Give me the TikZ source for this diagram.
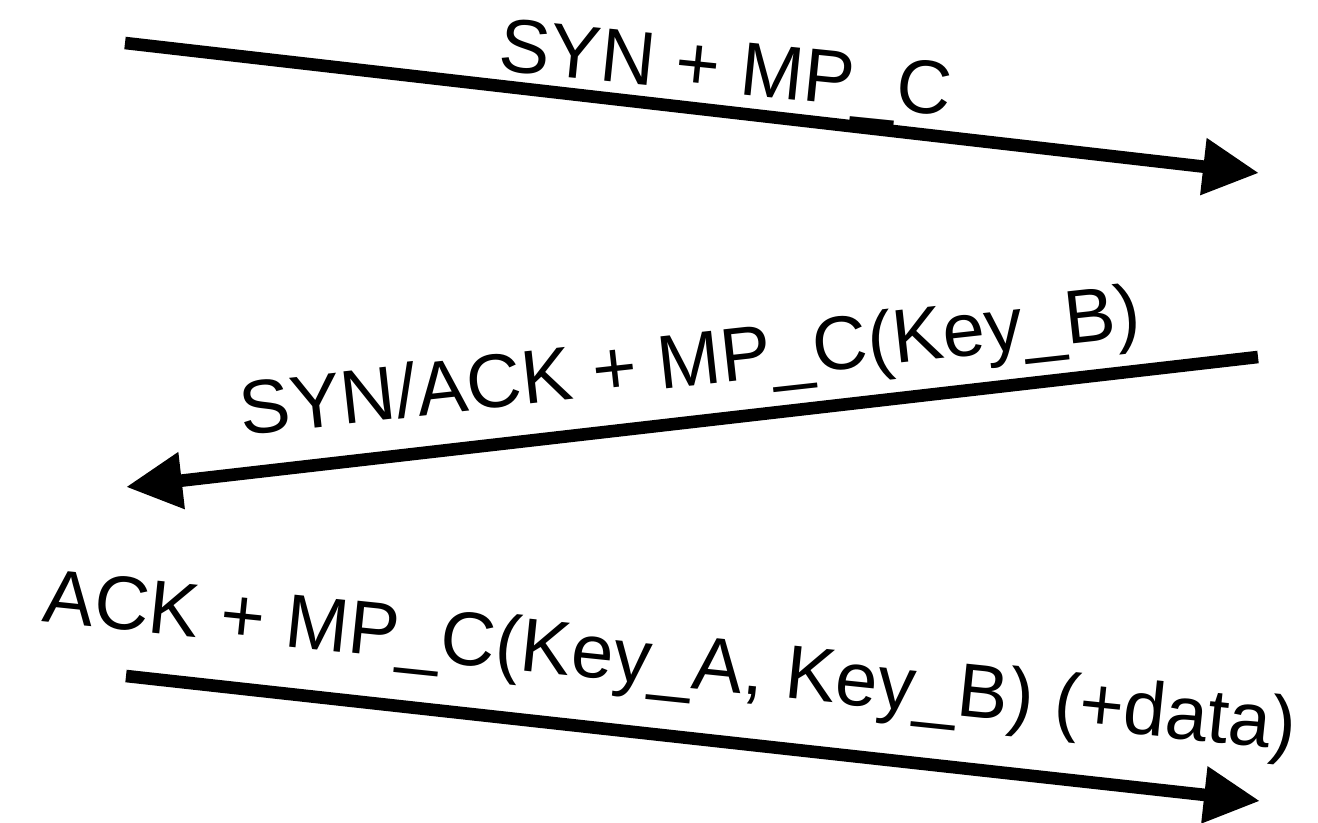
\documentclass[tikz,border=0pt]{standalone}
\usepackage{fontspec}
\setmainfont{Liberation Sans}
\usetikzlibrary{arrows.meta}
\begin{document}
\begin{tikzpicture}[x=0.5pt,y=-0.5pt,
  msg/.style={line width=6.3pt,-{Triangle[length=28pt,width=27pt]}},
  lbl/.style={font=\fontsize{38}{45}\selectfont,anchor=base,inner sep=0pt}]
\useasboundingbox (0,0) rectangle (1318,823);
\coordinate (a1) at (125,43);
\coordinate (b1) at (1259,173);
\coordinate (b2) at (1258,357);
\coordinate (a2) at (126,487);
\coordinate (a3) at (126,676);
\coordinate (b3) at (1260,801);
\draw[msg] (a1) -- (b1);
\draw[msg] (b2) -- (a2);
\draw[msg] (a3) -- (b3);
\node[lbl,rotate=-5.8] (l1) at (723,93) {SYN + MP\_C};
\node[lbl,rotate=6.3] (l2) at (693,386) {SYN/ACK + MP\_C(Key\_B)};
\node[lbl,rotate=-5.9] (l3) at (668,686) {ACK + MP\_C(Key\_A, Key\_B) (+data)};
\end{tikzpicture}
\end{document}
